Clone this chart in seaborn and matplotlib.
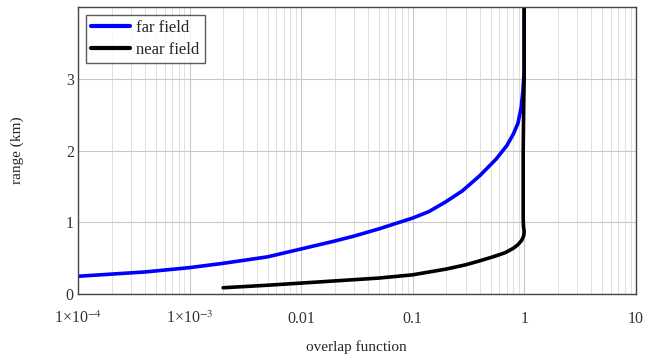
import numpy as np
import pandas as pd
import seaborn as sns
import matplotlib.pyplot as plt
from matplotlib.ticker import LogLocator, FixedLocator, NullFormatter

# values
far_overlap = [1e-4, 2e-4, 4e-4, 1e-3, 2e-3, 5e-3, 0.01, 0.02, 0.03, 0.05, 0.1, 0.14,
               0.2, 0.28, 0.4, 0.56, 0.7, 0.8, 0.88, 0.94, 0.975, 1.0, 1.0]
far_range = [0.25, 0.28, 0.31, 0.37, 0.43, 0.52, 0.63, 0.74, 0.81, 0.91, 1.06, 1.15,
             1.29, 1.44, 1.65, 1.88, 2.07, 2.23, 2.38, 2.6, 2.84, 3.1, 4.0]

near_overlap = [2e-3, 5e-3, 0.01, 0.02, 0.05, 0.1, 0.2, 0.3, 0.39, 0.5, 0.6, 0.68,
                0.8, 0.88, 0.95, 0.99, 1.0, 0.985, 0.98, 0.98, 0.99, 1.0, 1.0]
near_range = [0.09, 0.125, 0.155, 0.185, 0.225, 0.27, 0.35, 0.41, 0.46, 0.51, 0.55, 0.58,
              0.64, 0.69, 0.75, 0.81, 0.87, 0.96, 1.05, 2.0, 2.6, 3.0, 4.0]

xticks = [1e-4, 1e-3, 0.01, 0.1, 1, 10]
xtick_labels = [r"1×10$^{-4}$", r"1×10$^{-3}$", "0.01", "0.1", "1", "10"]
yticks = [0, 1, 2, 3]

df = pd.concat([
    pd.DataFrame({"overlap": far_overlap, "range": far_range, "field": "far field"}),
    pd.DataFrame({"overlap": near_overlap, "range": near_range, "field": "near field"}),
])

sns.set_style("white")
plt.rcParams["font.family"] = ["Liberation Serif", "DejaVu Serif"]
plt.rcParams["mathtext.fontset"] = "stix"

fig = plt.figure(figsize=(6.5, 3.61), dpi=100)
ax = fig.add_axes([0.12, 0.185, 0.858, 0.796])

sns.lineplot(data=df, x="overlap", y="range", hue="field", sort=False,
             estimator=None, errorbar=None,
             palette={"far field": "#0000ff", "near field": "black"},
             linewidth=2.6, ax=ax)
for ln in ax.get_lines():
    ln.set_solid_joinstyle("round")

ax.set_xscale("log")
ax.set_xlim(1e-4, 10)
ax.set_ylim(0, 4)
ax.xaxis.set_major_locator(FixedLocator(xticks))
ax.set_xticklabels(xtick_labels)
ax.xaxis.set_minor_locator(LogLocator(base=10, subs=np.arange(2, 10)))
ax.xaxis.set_minor_formatter(NullFormatter())
ax.set_yticks(yticks)

ax.grid(True, which="major", color="#c8c8c8", linewidth=0.8)
ax.grid(True, which="minor", axis="x", color="#e0e0e0", linewidth=0.7)
ax.tick_params(axis="both", which="both", length=0, labelsize=11.5, colors="#333333")
ax.tick_params(axis="x", pad=12)
ax.tick_params(axis="y", pad=3)
for s in ax.spines.values():
    s.set_color("#444444")
    s.set_linewidth(1.0)

ax.set_xlabel("overlap function", fontsize=11, labelpad=9)
ax.set_ylabel("range (km)", fontsize=11, labelpad=30)

leg = ax.legend(loc="upper left", fontsize=12, frameon=True, fancybox=False,
                borderaxespad=0.5, handlelength=2.3, handletextpad=0.4,
                borderpad=0.3, labelspacing=0.35)
leg.get_frame().set_edgecolor("#333333")
leg.get_frame().set_linewidth(1.0)
for h in leg.get_lines():
    h.set_linewidth(3)

plt.savefig("out.png", dpi=100)
